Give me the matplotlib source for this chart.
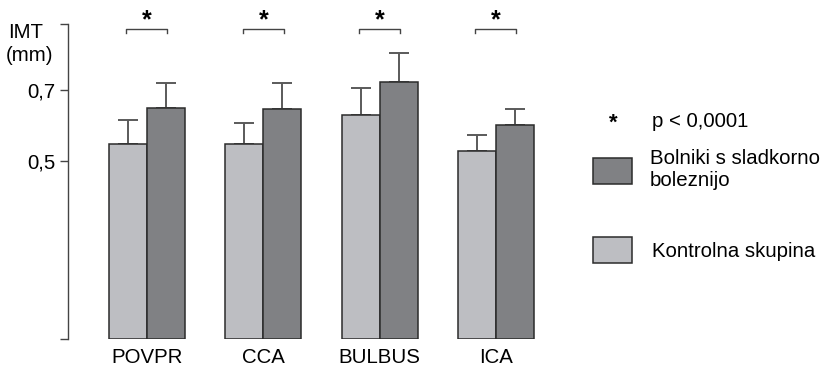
import matplotlib
matplotlib.use("Agg")
import matplotlib.pyplot as plt
from matplotlib.patches import Rectangle
import numpy as np

plt.rcParams['font.family'] = ['Liberation Sans', 'DejaVu Sans']

categories = ["POVPR", "CCA", "BULBUS", "ICA"]
control_mean = [0.548, 0.548, 0.632, 0.529]
control_sd = [0.068, 0.061, 0.074, 0.046]
diabetic_mean = [0.650, 0.647, 0.725, 0.602]
diabetic_sd = [0.070, 0.073, 0.081, 0.047]
ytick_values = [0.5, 0.7]
ytick_labels = ["0,5", "0,7"]
label_control = "Kontrolna skupina"
label_diabetic = ["Bolniki s sladkorno", "boleznijo"]
signif_text = "p < 0,0001"

c_control = "#bdbec2"
c_diabetic = "#808184"
edge = "#2b2b2b"
FS = 14.7

W, H = 828, 367
fig = plt.figure(figsize=(W / 100, H / 100), dpi=100)

# axes placed in pixel units
ax_left, ax_right, ax_top, ax_bottom = 68, 560, 24, 339
ax = fig.add_axes([ax_left / W, 1 - ax_bottom / H,
                   (ax_right - ax_left) / W, (ax_bottom - ax_top) / H])

px_per_group = 116.3
x0_px = 147
xlim_left = -(x0_px - ax_left) / px_per_group
xlim_right = (ax_right - x0_px) / px_per_group
ymax = 0.887
ax.set_xlim(xlim_left, xlim_right)
ax.set_ylim(0, ymax)

x = np.arange(len(categories))
bw = 38 / px_per_group

ax.bar(x - bw / 2, control_mean, bw, color=c_control, edgecolor=edge, linewidth=1.1, zorder=2)
ax.bar(x + bw / 2, diabetic_mean, bw, color=c_diabetic, edgecolor=edge, linewidth=1.1, zorder=2)

err_kw = dict(fmt="none", ecolor="#5a5a5a", elinewidth=1.4, capsize=7.2, capthick=1.4, zorder=1)
ax.errorbar(x - bw / 2, control_mean, yerr=[np.zeros(4), control_sd], **err_kw)
ax.errorbar(x + bw / 2, diabetic_mean, yerr=[np.zeros(4), diabetic_sd], **err_kw)

# significance brackets with stars
br_y = 0.873
br_leg = 0.012
half = 20.5 / px_per_group
for xi in x:
    ax.plot([xi - half, xi - half, xi + half, xi + half],
            [br_y - br_leg, br_y, br_y, br_y - br_leg],
            color="#444444", lw=1.0, clip_on=False)
    ax.text(xi, 0.877, "*", ha="center", va="baseline", fontsize=18,
            fontweight="bold", clip_on=False)

for s in ["top", "right", "bottom"]:
    ax.spines[s].set_visible(False)
ax.spines["left"].set_color("#444444")
ax.spines["left"].set_linewidth(1.0)

ax.set_yticks([0] + ytick_values + [ymax])
ax.set_yticklabels([""] + ytick_labels + [""], fontsize=FS)
ax.tick_params(axis="y", direction="out", length=6, width=1.0, color="#444444", pad=3)
ax.set_xticks(x)
ax.set_xticklabels(categories, fontsize=FS)
ax.tick_params(axis="x", length=0, pad=6.5)

def ftext(px, py, s, **kw):
    return fig.text(px / W, 1 - py / H, s, **kw)

ftext(8, 38, "IMT", ha="left", va="baseline", fontsize=FS)
ftext(6, 61, "(mm)", ha="left", va="baseline", fontsize=FS)

# legend drawn in figure coordinates
def fig_rect(x1, y1, x2, y2, color):
    fig.patches.append(Rectangle((x1 / W, 1 - y2 / H), (x2 - x1) / W, (y2 - y1) / H,
                                 transform=fig.transFigure, facecolor=color,
                                 edgecolor=edge, linewidth=1.1))

ftext(613, 129, "*", ha="center", va="baseline", fontsize=16, fontweight="bold")
ftext(652, 127, signif_text, ha="left", va="baseline", fontsize=FS)
fig_rect(593, 158, 632, 184, c_diabetic)
ftext(650, 164, label_diabetic[0], ha="left", va="baseline", fontsize=FS)
ftext(650, 186, label_diabetic[1], ha="left", va="baseline", fontsize=FS)
fig_rect(593, 237, 632, 263, c_control)
ftext(652, 257, label_control, ha="left", va="baseline", fontsize=FS)

fig.savefig("out.png", dpi=100)
